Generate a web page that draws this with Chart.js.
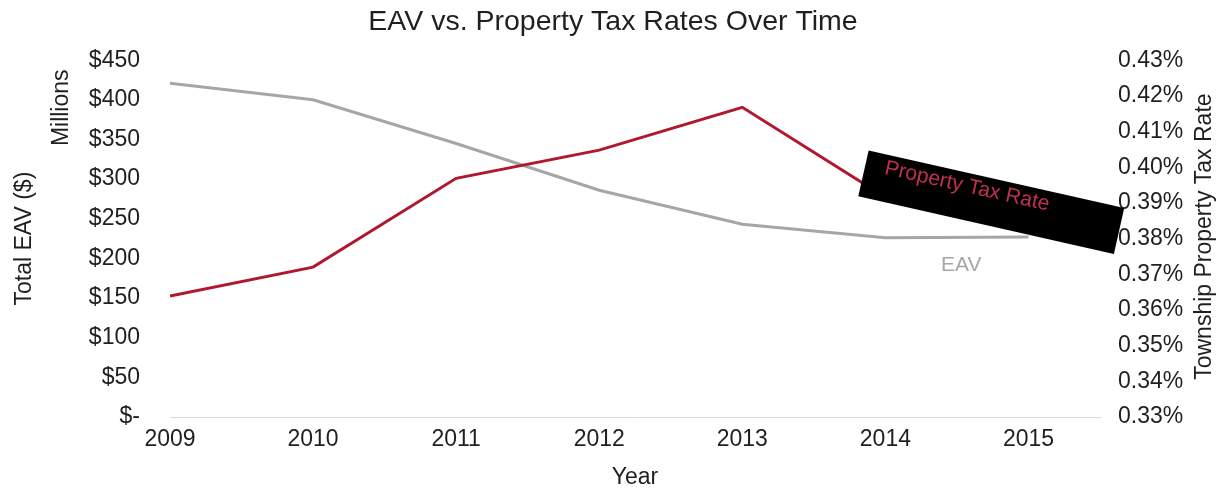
<!DOCTYPE html>
<html>
<head>
<meta charset="utf-8">
<title>EAV vs. Property Tax Rates Over Time</title>
<script src="https://cdn.jsdelivr.net/npm/chart.js@4"></script>
<style>
  html, body { margin: 0; padding: 0; background: #fff; }
  #eavChart { display: block; }
</style>
</head>
<body>
<canvas id="eavChart" width="1226" height="491"></canvas>
<script>
// Township EAV (in $ millions) and township property tax rate (%) by year
const years = [2009, 2010, 2011, 2012, 2013, 2014, 2015];
const eavMillions = [421, 400, 345, 286, 243, 226, 227];
const taxRatePct = [0.3639, 0.3720, 0.3969, 0.4048, 0.4168, 0.3916, 0.3860];

const eavTicks = [0, 50, 100, 150, 200, 250, 300, 350, 400, 450];
const rateTicks = [0.33, 0.34, 0.35, 0.36, 0.37, 0.38, 0.39, 0.40, 0.41, 0.42, 0.43];

const RED = '#b0182f';
const GREY = '#a6a6a6';
const INK = '#1f1f1f';
const FONT = '"Liberation Sans", Arial, Helvetica, sans-serif';

// series call-outs, anchored in data units
const rateCallout = { year: 2014.74, rate: 0.3902, w: 262, h: 47, angle: 12.7, text: 'Property Tax Rate' };
const eavCallout = { year: 2014.53, eav: 191.6, text: 'EAV' };

function rotatedText(ctx, text, x, y, font, color) {
  ctx.save();
  ctx.fillStyle = color;
  ctx.font = font;
  ctx.textAlign = 'center';
  ctx.textBaseline = 'middle';
  ctx.translate(x, y);
  ctx.rotate(-Math.PI / 2);
  ctx.fillText(text, 0, 0);
  ctx.restore();
}

const calloutPlugin = {
  id: 'callouts',
  afterDatasetsDraw(chart) {
    const ctx = chart.ctx;
    const x = chart.scales.x;
    const yL = chart.scales.yEav;
    const yR = chart.scales.yRate;

    // black tag over the tail of the tax-rate line
    const cx = x.getPixelForValue(rateCallout.year);
    const cy = yR.getPixelForValue(rateCallout.rate);
    ctx.save();
    ctx.translate(cx, cy);
    ctx.rotate(rateCallout.angle * Math.PI / 180);
    ctx.fillStyle = '#000';
    ctx.fillRect(-rateCallout.w / 2, -rateCallout.h / 2, rateCallout.w, rateCallout.h);
    ctx.fillStyle = '#c0304f';
    ctx.font = '21px ' + FONT;
    ctx.textAlign = 'center';
    ctx.textBaseline = 'middle';
    ctx.fillText(rateCallout.text, -27, -10);
    ctx.restore();

    // EAV series label
    ctx.save();
    ctx.fillStyle = GREY;
    ctx.font = '21px ' + FONT;
    ctx.textAlign = 'center';
    ctx.textBaseline = 'middle';
    ctx.fillText(eavCallout.text, x.getPixelForValue(eavCallout.year), yL.getPixelForValue(eavCallout.eav));
    ctx.restore();

    // unit note next to the left axis
    rotatedText(ctx, 'Millions', yL.left + 62, yL.getPixelForValue(390), '23px ' + FONT, INK);

    // right axis title, reading bottom to top
    const area = chart.chartArea;
    rotatedText(ctx, 'Township Property Tax Rate', yR.right - 21, (area.top + area.bottom) / 2 - 2, '23px ' + FONT, INK);
  }
};

new Chart(document.getElementById('eavChart'), {
  type: 'line',
  data: {
    datasets: [{
      label: 'EAV',
      data: years.map((yr, i) => ({ x: yr, y: eavMillions[i] })),
      yAxisID: 'yEav',
      borderColor: GREY,
      borderWidth: 3,
      pointRadius: 0,
      tension: 0,
      order: 1
    }, {
      label: 'Property Tax Rate',
      data: years.map((yr, i) => ({ x: yr, y: taxRatePct[i] })),
      yAxisID: 'yRate',
      borderColor: RED,
      borderWidth: 3,
      pointRadius: 0,
      tension: 0,
      order: 0
    }]
  },
  options: {
    responsive: false,
    animation: false,
    devicePixelRatio: 1,
    layout: { padding: 0 },
    plugins: {
      legend: { display: false },
      tooltip: { enabled: false },
      title: {
        display: true,
        text: 'EAV vs. Property Tax Rates Over Time',
        color: INK,
        font: { family: FONT, size: 28.5, weight: 'normal' },
        padding: { top: 5, bottom: 21 }
      }
    },
    scales: {
      x: {
        type: 'linear',
        min: 2009,
        max: 2015.5,
        afterBuildTicks: (scale) => { scale.ticks = years.map(v => ({ value: v })); },
        afterFit: (scale) => { scale.height = 74; },
        grid: { display: false, drawTicks: false },
        border: { display: true, color: '#d9d9d9', width: 1 },
        ticks: {
          color: INK,
          font: { family: FONT, size: 23 },
          padding: 9,
          autoSkip: false,
          maxRotation: 0,
          callback: (v) => String(v)
        },
        title: {
          display: true,
          text: 'Year',
          color: INK,
          font: { family: FONT, size: 23 },
          padding: 0
        }
      },
      yEav: {
        type: 'linear',
        position: 'left',
        min: 0,
        max: 450,
        afterBuildTicks: (scale) => { scale.ticks = eavTicks.map(v => ({ value: v })); },
        afterFit: (scale) => { scale.width = 170; },
        grid: { display: false, drawTicks: false },
        border: { display: false },
        ticks: {
          color: INK,
          font: { family: FONT, size: 23 },
          padding: 30,
          callback: (v) => v === 0 ? '$-' : '$' + v
        },
        title: {
          display: true,
          text: 'Total EAV ($)',
          color: INK,
          font: { family: FONT, size: 23 },
          padding: { top: 11, bottom: 0 }
        }
      },
      yRate: {
        type: 'linear',
        position: 'right',
        min: 0.33,
        max: 0.43,
        afterBuildTicks: (scale) => { scale.ticks = rateTicks.map(v => ({ value: v })); },
        afterFit: (scale) => { scale.width = 126; },
        grid: { display: false, drawTicks: false },
        border: { display: false },
        ticks: {
          color: INK,
          font: { family: FONT, size: 23 },
          padding: 18,
          callback: (v) => v.toFixed(2) + '%'
        }
      }
    }
  },
  plugins: [calloutPlugin]
});
</script>
</body>
</html>
